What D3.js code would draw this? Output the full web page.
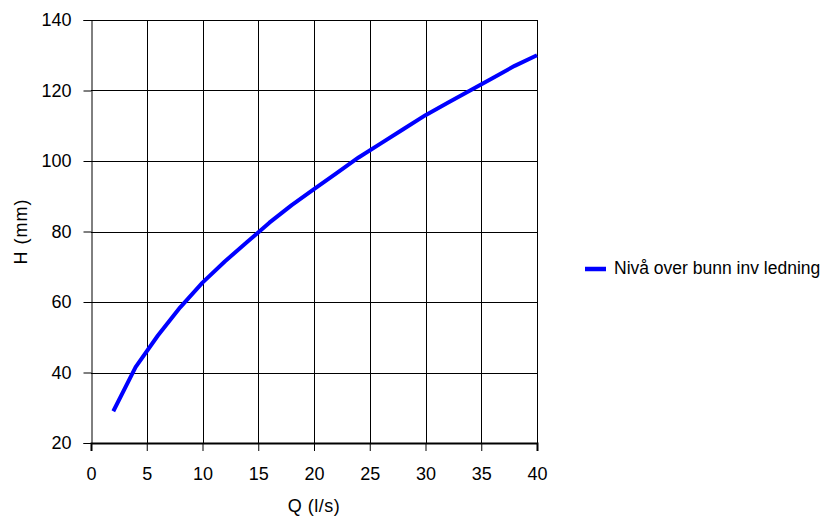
<!DOCTYPE html>
<html>
<head>
<meta charset="utf-8">
<script src="https://cdn.jsdelivr.net/npm/d3@7"></script>
<style>
  body { margin: 0; background: #fff; }
  svg { display: block; font-family: "Liberation Sans", Arial, sans-serif; }
</style>
</head>
<body>
<div id="chart"></div>
<script>
// Q (l/s) and H (mm)
const flow = [2, 4, 6, 8, 10, 12, 14, 16, 18, 20, 22, 24, 26, 28, 30, 32, 34, 36, 38, 40];
const level = [29, 41.5, 50.5, 58.5, 65.5, 71.5, 77, 82.5, 87.5, 92, 96.5, 101, 105, 109, 113, 116.5, 120, 123.5, 127, 130];
const xTicks = [0, 5, 10, 15, 20, 25, 30, 35, 40];
const yTicks = [20, 40, 60, 80, 100, 120, 140];
const seriesName = "Nivå over bunn inv ledning";

const width = 827, height = 518;
const margin = { top: 20, right: 290, bottom: 75, left: 91 };

const svg = d3.select("#chart").append("svg")
    .attr("width", width)
    .attr("height", height);

const x = d3.scaleLinear().domain([0, 40]).range([margin.left, width - margin.right]);
const y = d3.scaleLinear().domain([20, 140]).range([height - margin.bottom, margin.top]);

// grid
svg.append("g")
    .selectAll("line")
    .data(xTicks.slice(1))
    .enter().append("line")
    .attr("x1", d => Math.round(x(d)) + 0.5)
    .attr("x2", d => Math.round(x(d)) + 0.5)
    .attr("y1", y(140))
    .attr("y2", y(20))
    .attr("stroke", "#000")
    .attr("stroke-width", 1);

svg.append("g")
    .selectAll("line")
    .data(yTicks.slice(1))
    .enter().append("line")
    .attr("x1", x(0))
    .attr("x2", x(40))
    .attr("y1", d => Math.round(y(d)) + 0.5)
    .attr("y2", d => Math.round(y(d)) + 0.5)
    .attr("stroke", "#000")
    .attr("stroke-width", 1);

// axes
const xAxis = svg.append("g")
    .attr("transform", `translate(0,${Math.round(y(20))})`)
    .call(d3.axisBottom(x).tickValues(xTicks).tickSize(8).tickPadding(16));
xAxis.select(".domain").attr("stroke-width", 2);

const yAxis = svg.append("g")
    .attr("transform", `translate(${Math.round(x(0)) + 0.5},0)`)
    .call(d3.axisLeft(y).tickValues(yTicks).tickSize(8).tickPadding(12));

svg.selectAll(".tick text")
    .style("font-size", "18px")
    .style("font-family", "'Liberation Sans', Arial, sans-serif")
    .attr("fill", "#000");
svg.selectAll(".tick line").attr("stroke", "#000");

// axis titles
svg.append("text")
    .attr("x", (x(0) + x(40)) / 2)
    .attr("y", 512)
    .attr("text-anchor", "middle")
    .style("font-size", "18px")
    .style("letter-spacing", "0.5px")
    .text("Q (l/s)");

svg.append("text")
    .attr("transform", `translate(27,${(y(20) + y(140)) / 2}) rotate(-90)`)
    .attr("text-anchor", "middle")
    .style("font-size", "18px")
    .style("letter-spacing", "1px")
    .text("H (mm)");

// series
const pts = flow.map((q, i) => [q, level[i]]);
const line = d3.line().x(d => x(d[0])).y(d => y(d[1]));

svg.append("path")
    .datum(pts)
    .attr("fill", "none")
    .attr("stroke", "#0000ff")
    .attr("stroke-width", 4)
    .attr("stroke-linejoin", "round")
    .attr("d", line);

// legend
const legend = svg.append("g").attr("transform", "translate(585,269)");
legend.append("line")
    .attr("x1", 0).attr("x2", 21)
    .attr("stroke", "#0000ff")
    .attr("stroke-width", 4.5);
legend.append("text")
    .attr("x", 29)
    .attr("y", 5)
    .style("font-size", "17.5px")
    .text(seriesName);
</script>
</body>
</html>
